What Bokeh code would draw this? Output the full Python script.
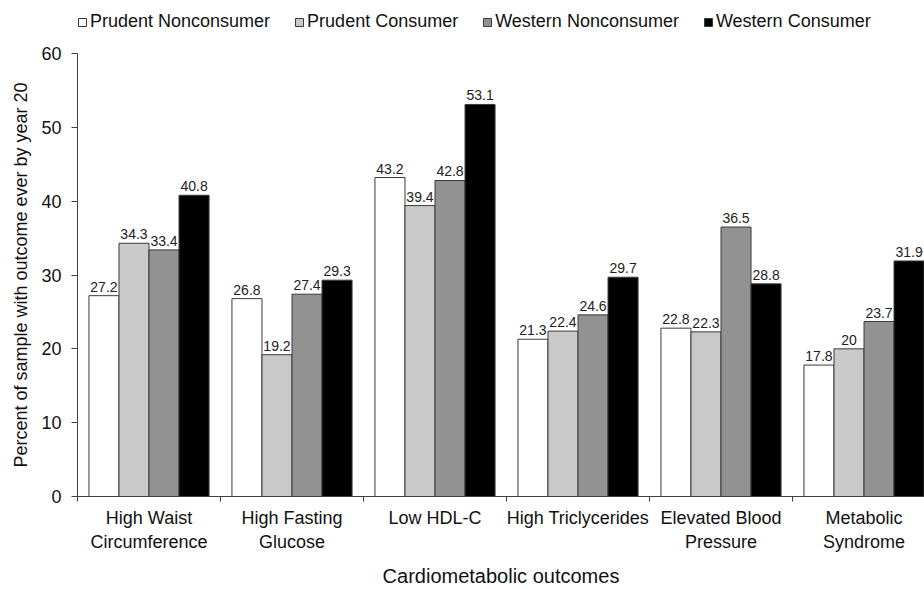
from bokeh.plotting import figure
from bokeh.layouts import column
from bokeh.models import (Range1d, FixedTicker, Legend, LegendItem, ColumnDataSource)
from bokeh.core.properties import value
from bokeh.embed import file_html
from bokeh.resources import INLINE

categories = ["High Waist\nCircumference", "High Fasting\nGlucose", "Low HDL-C",
              "High Triclycerides", "Elevated Blood\nPressure", "Metabolic\nSyndrome"]
series = ["Prudent Nonconsumer", "Prudent Consumer", "Western Nonconsumer", "Western Consumer"]
prudent_nonconsumer = [27.2, 26.8, 43.2, 21.3, 22.8, 17.8]
prudent_consumer = [34.3, 19.2, 39.4, 22.4, 22.3, 20.0]
western_nonconsumer = [33.4, 27.4, 42.8, 24.6, 36.5, 23.7]
western_consumer = [40.8, 29.3, 53.1, 29.7, 28.8, 31.9]
y_ticks = [0, 10, 20, 30, 40, 50, 60]

values = [prudent_nonconsumer, prudent_consumer, western_nonconsumer, western_consumer]
colors = ["#ffffff", "#c9c9c9", "#929292", "#000000"]

FONT = "Liberation Sans"
W, H = 924, 589
LEG_H = 43
LEFT, TOP, BOTTOM = 77, 10, 89
MAIN_H = H - LEG_H
frame_w = W - LEFT
cat_px = 143.0

p = figure(width=W, height=MAIN_H, output_backend="svg", toolbar_location=None,
           x_range=Range1d(0, frame_w / cat_px), y_range=Range1d(0, 60),
           min_border_left=LEFT, min_border_right=0, min_border_top=TOP,
           min_border_bottom=BOTTOM)
p.outline_line_color = None
p.grid.visible = False
p.background_fill_color = "white"
p.border_fill_color = "white"

bw = 0.21
for i, (name, vals, col) in enumerate(zip(series, values, colors)):
    xs = [k + 0.5 + (i - 1.5) * bw for k in range(len(categories))]
    src = ColumnDataSource(dict(x=xs, top=vals, lab=[f"{v:g}" for v in vals]))
    p.vbar(x="x", top="top", width=bw, source=src, fill_color=col,
           line_color="#3a3a3a", line_width=1)
    p.text(x="x", y="top", text="lab", source=src, text_align="center",
           text_baseline="alphabetic", y_offset=-9, text_font=value(FONT),
           text_font_size="14px", text_color="#222222")

# x axis
xa = p.xaxis[0]
xa.ticker = FixedTicker(ticks=[k + 0.5 for k in range(len(categories))],
                        minor_ticks=list(range(len(categories) + 1)))
xa.major_label_overrides = {k + 0.5: c for k, c in enumerate(categories)}
xa.major_tick_out = 0
xa.major_tick_in = 0
xa.minor_tick_out = 5
xa.minor_tick_in = 0
xa.axis_line_color = "#404040"
xa.minor_tick_line_color = "#404040"
xa.major_label_text_font = FONT
xa.major_label_text_font_size = "18px"
xa.major_label_text_color = "#111111"
xa.major_label_standoff = 6
xa.axis_label = "Cardiometabolic outcomes"
xa.axis_label_text_font = FONT
xa.axis_label_text_font_size = "20px"
xa.axis_label_text_font_style = "normal"
xa.axis_label_text_color = "#111111"
xa.axis_label_standoff = 10

# y axis
ya = p.yaxis[0]
ya.ticker = FixedTicker(ticks=y_ticks)
ya.major_tick_out = 6
ya.major_tick_in = 0
ya.minor_tick_out = 0
ya.minor_tick_in = 0
ya.axis_line_color = "#404040"
ya.major_tick_line_color = "#404040"
ya.major_label_text_font = FONT
ya.major_label_text_font_size = "18px"
ya.major_label_text_color = "#111111"
ya.major_label_standoff = 10
ya.axis_label = "Percent of sample with outcome ever by year 20"
ya.axis_label_text_font = FONT
ya.axis_label_text_font_size = "18px"
ya.axis_label_text_font_style = "normal"
ya.axis_label_text_color = "#111111"
ya.axis_label_standoff = 7

# legend strip above the chart (its frame is aligned with the chart's frame)
lg = figure(width=W, height=LEG_H, output_backend="svg", toolbar_location=None,
            x_range=Range1d(0, 1), y_range=Range1d(0, 1),
            x_axis_type=None, y_axis_type=None,
            min_border_left=0, min_border_right=0, min_border_top=0, min_border_bottom=0)
lg.outline_line_color = None
lg.grid.visible = False
lg.border_fill_color = "white"
items = []
for name, col in zip(series, colors):
    # off-range dummy renderer: only its legend swatch is drawn
    r = lg.vbar(x=[5], top=[6], bottom=[5.5], width=0.1, fill_color=col,
                line_color="#3a3a3a", line_width=1)
    items.append(LegendItem(label=name, renderers=[r]))
legend = Legend(items=items, orientation="horizontal", location=(0, LEG_H - 11 - 21),
                glyph_width=10, glyph_height=10, label_standoff=3, spacing=24,
                padding=0, margin=0, label_height=21,
                label_text_font=FONT, label_text_font_size="18px",
                label_text_color="#111111",
                border_line_color=None, background_fill_alpha=0)
lg.add_layout(legend, "center")

layout = column(lg, p, spacing=0)
open("out.html", "w").write(file_html(layout, INLINE))
